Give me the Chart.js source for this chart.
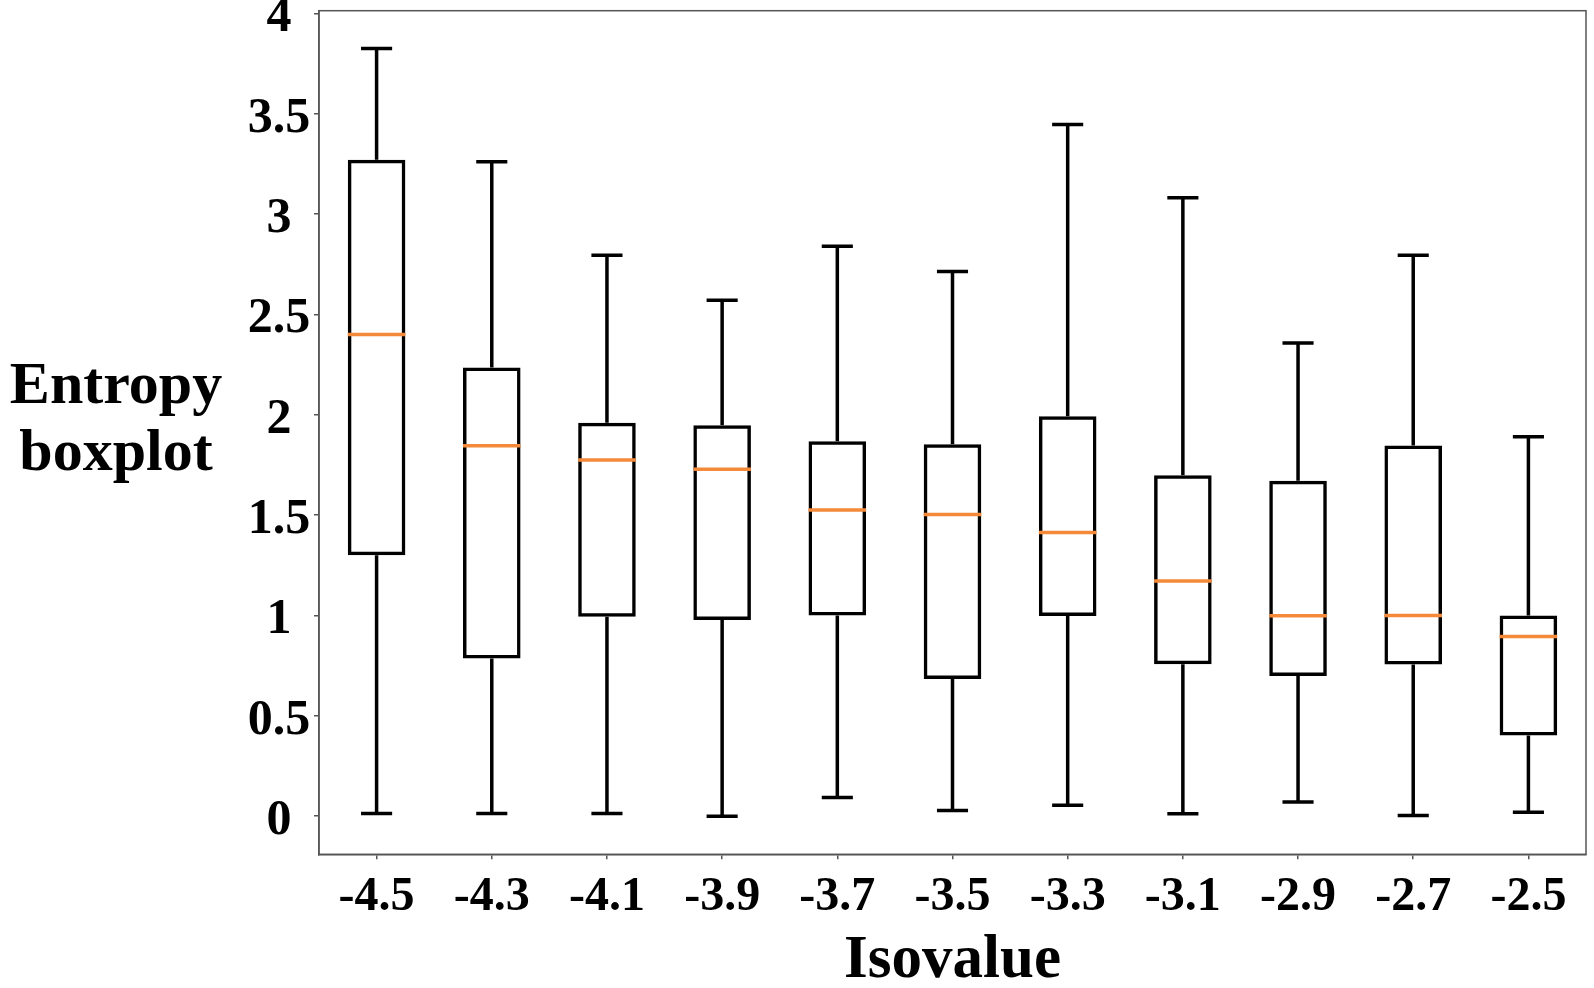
<!DOCTYPE html>
<html lang="en">
<head>
<meta charset="UTF-8">
<title>Entropy boxplot</title>
<script src="https://cdn.jsdelivr.net/npm/chart.js"></script>
<style>
  html, body { margin: 0; padding: 0; background: #fff; }
  #wrap { width: 1594px; height: 988px; position: relative; }
</style>
</head>
<body>
<div id="wrap"><canvas id="boxChart"></canvas></div>
<script>
// values
const isovalues   = ['-4.5', '-4.3', '-4.1', '-3.9', '-3.7', '-3.5', '-3.3', '-3.1', '-2.9', '-2.7', '-2.5'];
const whiskerLow  = [0.013, 0.013, 0.013, 0.0,   0.093, 0.028, 0.055, 0.012, 0.07,  0.003, 0.02];
const q1          = [1.30,  0.786, 0.993, 0.977, 1.0,   0.684, 0.997, 0.757, 0.698, 0.756, 0.402];
const median      = [2.40,  1.845, 1.774, 1.729, 1.525, 1.503, 1.413, 1.172, 0.998, 1.0,   0.895];
const q3          = [3.27,  2.235, 1.96,  1.948, 1.868, 1.853, 1.993, 1.699, 1.671, 1.847, 1.0];
const whiskerHigh = [3.825, 3.26,  2.795, 2.57,  2.84,  2.714, 3.446, 3.081, 2.357, 2.795, 1.89];
const yTicks      = [0, 0.5, 1, 1.5, 2, 2.5, 3, 3.5, 4];

const serif = "'Liberation Serif', 'Times New Roman', serif";
const axisGrey = '#555';

// whiskers, caps, medians, frame, y tick labels and axis titles
const boxExtras = {
  id: 'boxExtras',
  afterDatasetsDraw(chart) {
    const ctx = chart.ctx;
    const x = chart.scales.x, y = chart.scales.y;
    const a = chart.chartArea;
    const step = x.getPixelForValue(1) - x.getPixelForValue(0);
    const cap = step * 0.135;
    const half = step * 0.25;

    ctx.save();
    ctx.lineCap = 'butt';
    isovalues.forEach((lab, i) => {
      const cx = x.getPixelForValue(i);
      const yLo = y.getPixelForValue(whiskerLow[i]);
      const yHi = y.getPixelForValue(whiskerHigh[i]);
      ctx.strokeStyle = '#000';
      ctx.lineWidth = 3.5;
      ctx.beginPath();
      ctx.moveTo(cx, y.getPixelForValue(q3[i]));
      ctx.lineTo(cx, yHi);
      ctx.moveTo(cx, y.getPixelForValue(q1[i]));
      ctx.lineTo(cx, yLo);
      ctx.moveTo(cx - cap, yHi);
      ctx.lineTo(cx + cap, yHi);
      ctx.moveTo(cx - cap, yLo);
      ctx.lineTo(cx + cap, yLo);
      ctx.stroke();

      const ym = y.getPixelForValue(median[i]);
      ctx.strokeStyle = '#f5893a';
      ctx.lineWidth = 3.5;
      ctx.beginPath();
      ctx.moveTo(cx - half, ym);
      ctx.lineTo(cx + half, ym);
      ctx.stroke();
    });

    ctx.strokeStyle = axisGrey;
    ctx.lineWidth = 1.5;
    ctx.strokeRect(a.left, a.top, a.right - a.left, a.bottom - a.top);

    // y tick labels sit a little below their ticks in the original
    ctx.fillStyle = '#000';
    ctx.font = 'bold 50px ' + serif;
    ctx.textAlign = 'center';
    ctx.textBaseline = 'middle';
    yTicks.forEach(v => {
      ctx.fillText(String(v), a.left - 40, y.getPixelForValue(v) + 5);
    });

    const midY = (a.top + a.bottom) / 2;
    ctx.font = 'bold 60px ' + serif;
    ctx.textBaseline = 'alphabetic';
    ctx.fillText('Entropy', a.left - 203, midY - 29.5);
    ctx.fillText('boxplot', a.left - 203, midY + 37.5);
    ctx.font = 'bold 61px ' + serif;
    ctx.fillText('Isovalue', (a.left + a.right) / 2, a.bottom + 122.7);
    ctx.restore();
  }
};

new Chart(document.getElementById('boxChart'), {
  type: 'bar',
  data: {
    labels: isovalues,
    datasets: [{
      label: 'IQR',
      data: isovalues.map((_, i) => [q1[i], q3[i]]),
      backgroundColor: 'rgba(0,0,0,0)',
      borderColor: '#000',
      borderWidth: 3.5,
      borderSkipped: false,
      inflateAmount: 0,
      barPercentage: 0.5,
      categoryPercentage: 1.0
    }]
  },
  options: {
    responsive: true,
    maintainAspectRatio: false,
    animation: false,
    devicePixelRatio: 1,
    layout: { padding: { left: 0, right: 8, top: 10.7, bottom: 0 } },
    plugins: { legend: { display: false }, tooltip: { enabled: false } },
    scales: {
      x: {
        type: 'category',
        offset: true,
        grid: { display: true, offset: false, drawOnChartArea: false, drawTicks: true, tickLength: 5, color: axisGrey, lineWidth: 1.5 },
        border: { display: true, color: axisGrey, width: 1.5 },
        ticks: {
          color: '#000',
          padding: 9,
          maxRotation: 0,
          autoSkip: false,
          font: { family: serif, size: 48, weight: 'bold' }
        },
        afterFit(s) { s.height = 133.7; s.paddingLeft = 0; s.paddingRight = 0; }
      },
      y: {
        type: 'linear',
        min: -0.19,
        max: 4.013,
        grid: { display: true, drawOnChartArea: false, drawTicks: true, tickLength: 5, color: axisGrey, lineWidth: 1.5 },
        border: { display: true, color: axisGrey, width: 1.5 },
        afterBuildTicks(s) { s.ticks = yTicks.map(v => ({ value: v })); },
        ticks: { display: false },
        afterFit(s) { s.width = 319; s.paddingTop = 0; s.paddingBottom = 0; }
      }
    }
  },
  plugins: [boxExtras]
});
</script>
</body>
</html>
